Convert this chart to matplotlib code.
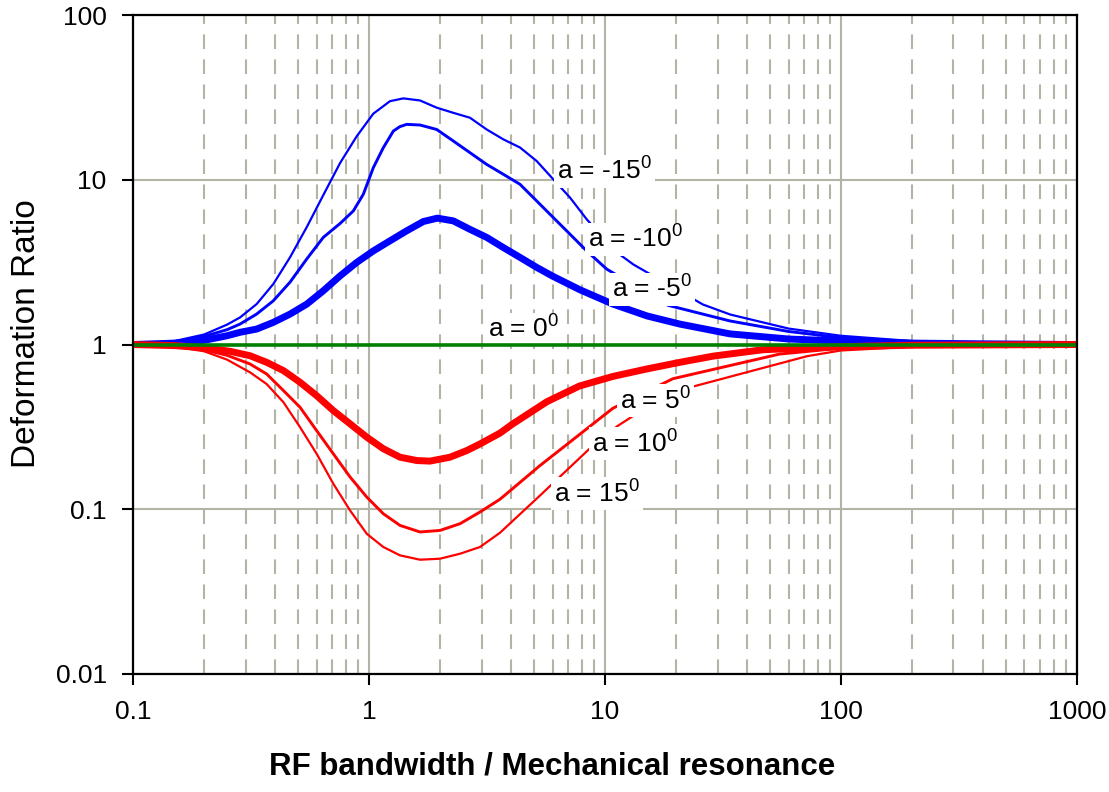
import matplotlib
matplotlib.use("Agg")
import matplotlib.pyplot as plt
from matplotlib.ticker import FixedLocator, FixedFormatter, NullLocator, LogLocator

plt.rcParams['font.family'] = ['Liberation Sans', 'DejaVu Sans']
plt.rcParams['mathtext.fontset'] = 'custom'
plt.rcParams['mathtext.rm'] = 'Liberation Sans'
plt.rcParams['mathtext.default'] = 'regular'

# ---- data ----
x_m15 = [0.1, 0.15, 0.2, 0.25, 0.284, 0.334, 0.393, 0.463, 0.545, 0.640, 0.754, 0.887, 1.043, 1.227, 1.398,
         1.645, 1.936, 2.276, 2.679, 3.153, 3.708, 4.364, 5.135, 6.038, 7.108, 8.366, 11.1, 13.2, 26, 34, 60,
         100, 200, 400, 1000]
y_m15 = [1.0, 1.05, 1.15, 1.32, 1.46, 1.76, 2.33, 3.39, 5.17, 8.07, 12.64, 18.38, 25.2, 30.0, 31.2,
         30.3, 27.4, 25.5, 23.8, 20.2, 17.6, 15.7, 13.0, 10.07, 7.80, 5.76, 3.67, 3.06, 1.75, 1.52, 1.25,
         1.13, 1.05, 1.02, 1.0]

x_m10 = [0.1, 0.15, 0.2, 0.25, 0.284, 0.334, 0.393, 0.463, 0.545, 0.640, 0.754, 0.858, 0.946, 1.043, 1.150,
         1.268, 1.35, 1.444, 1.645, 1.936, 2.276, 2.679, 3.153, 3.708, 4.364, 5.135, 6.038, 7.108, 8.366, 10.17,
         18.5, 33.9, 60, 100, 200, 400, 1000]
y_m10 = [1.0, 1.04, 1.12, 1.23, 1.331, 1.531, 1.843, 2.395, 3.31, 4.47, 5.43, 6.47, 8.17, 11.85, 15.67,
         19.76, 21.0, 21.7, 21.5, 20.2, 17.2, 14.6, 12.4, 10.8, 9.39, 7.44, 5.90, 4.675, 3.70, 2.87,
         1.73, 1.39, 1.2, 1.1, 1.04, 1.01, 1.0]

x_m5 = [0.1, 0.15, 0.2, 0.25, 0.284, 0.334, 0.393, 0.463, 0.545, 0.640, 0.754, 0.887, 1.043, 1.227, 1.444,
        1.699, 1.95, 2.276, 2.679, 3.153, 3.708, 4.364, 5.135, 6.0, 7.83, 10.8, 15.1, 20.8, 33.9, 60, 100,
        200, 400, 1000]
y_m5 = [1.0, 1.02, 1.06, 1.13, 1.186, 1.241, 1.363, 1.531, 1.76, 2.119, 2.61, 3.15, 3.70, 4.26, 4.90,
        5.58, 5.85, 5.63, 5.0, 4.47, 3.88, 3.38, 2.94, 2.6, 2.15, 1.76, 1.49, 1.33, 1.16, 1.08, 1.05,
        1.02, 1.01, 1.0]

x_0 = [0.1, 1000]
y_0 = [1.0, 1.0]

x_p5 = [0.1, 0.15, 0.2, 0.257, 0.313, 0.368, 0.434, 0.510, 0.600, 0.706, 0.831, 0.978, 1.150, 1.353, 1.593,
        1.813, 2.204, 2.594, 2.953, 3.59, 4.07, 5.68, 7.8, 10.8, 15, 20.8, 28.7, 46.8, 100, 200, 1000]
y_p5 = [1.0, 0.985, 0.955, 0.91, 0.855, 0.780, 0.694, 0.590, 0.489, 0.397, 0.330, 0.274, 0.233, 0.207, 0.1976,
        0.196, 0.207, 0.227, 0.249, 0.29, 0.33, 0.45, 0.56, 0.64, 0.71, 0.78, 0.85, 0.93, 0.97, 0.99, 1.0]

x_p10 = [0.1, 0.15, 0.2, 0.25, 0.313, 0.368, 0.434, 0.510, 0.600, 0.706, 0.831, 0.978, 1.150, 1.353, 1.645,
         2.0, 2.43, 2.953, 3.59, 5.3, 10.8, 19.4, 55, 100, 200, 400, 1000]
y_p10 = [1.0, 0.975, 0.93, 0.86, 0.762, 0.663, 0.525, 0.416, 0.300, 0.217, 0.157, 0.1186, 0.0939, 0.0798, 0.0728,
         0.0744, 0.0817, 0.0962, 0.115, 0.184, 0.41, 0.62, 0.875, 0.95, 0.98, 0.995, 1.0]

x_p15 = [0.1, 0.15, 0.2, 0.25, 0.313, 0.368, 0.434, 0.510, 0.600, 0.706, 0.831, 0.978, 1.150, 1.353, 1.645,
         2.0, 2.43, 2.953, 3.59, 5.3, 8.6, 11.3, 14, 23, 72, 100, 200, 400, 1000]
y_p15 = [1.0, 0.97, 0.91, 0.81, 0.678, 0.576, 0.446, 0.315, 0.217, 0.1427, 0.0984, 0.0710, 0.0590, 0.0525, 0.0494,
         0.0501, 0.0537, 0.0590, 0.072, 0.121, 0.233, 0.32, 0.39, 0.55, 0.85, 0.92, 0.97, 0.99, 1.0]

x_ticks = [0.1, 1, 10, 100, 1000]
x_tick_labels = ['0.1', '1', '10', '100', '1000']
y_ticks = [0.01, 0.1, 1, 10, 100]
y_tick_labels = ['0.01', '0.1', '1', '10', '100']

labels = ['a = -15$^0$', 'a = -10$^0$', 'a = -5$^0$', 'a = 0$^0$', 'a = 5$^0$', 'a = 10$^0$', 'a = 15$^0$']
label_x = [6.26, 8.47, 10.7, 3.19, 11.6, 8.81, 6.08]
label_y = [11.3, 4.36, 2.17, 1.24, 0.455, 0.249, 0.124]

# ---- figure ----
fig = plt.figure(figsize=(11.09, 7.92), dpi=100)
ax = fig.add_axes([0.12, 0.149, 0.851, 0.832])
ax.set_xscale('log')
ax.set_yscale('log')
ax.set_xlim(0.1, 1000)
ax.set_ylim(0.01, 100)

gcol = '#b3b3a6'
ax.xaxis.set_minor_locator(LogLocator(base=10, subs=range(2, 10)))
ax.yaxis.set_minor_locator(NullLocator())
ax.grid(True, which='major', axis='both', color=gcol, lw=1.5, ls='-', zorder=0)
ax.grid(True, which='minor', axis='x', color=gcol, lw=1.5, ls=(0, (7, 5)), zorder=0)
ax.set_axisbelow(True)

blue = '#0000ff'
red = '#ff0000'
kw = dict(solid_capstyle='round', solid_joinstyle='round')
ax.plot(x_p15, y_p15, color=red, lw=1.6, zorder=3, **kw)
ax.plot(x_p10, y_p10, color=red, lw=2.1, zorder=3, **kw)
ax.plot(x_m15, y_m15, color=blue, lw=1.6, zorder=3, **kw)
ax.plot(x_m10, y_m10, color=blue, lw=2.1, zorder=3, **kw)
ax.plot(x_m5, y_m5, color=blue, lw=5.0, zorder=3, **kw)
ax.plot(x_p5, y_p5, color=red, lw=5.0, zorder=3, **kw)
ax.plot(x_0, y_0, color='#008000', lw=2.6, zorder=6.5, **kw)

for t, lx, ly in zip(labels, label_x, label_y):
    ax.text(lx, ly, t, fontsize=19, ha='left', va='center', zorder=6,
            bbox=dict(facecolor='white', edgecolor='none', pad=2))

ax.xaxis.set_major_locator(FixedLocator(x_ticks))
ax.xaxis.set_major_formatter(FixedFormatter(x_tick_labels))
ax.yaxis.set_major_locator(FixedLocator(y_ticks))
ax.yaxis.set_major_formatter(FixedFormatter(y_tick_labels))
ax.tick_params(which='major', direction='out', length=8, width=1.5, labelsize=19, pad=11)
ax.tick_params(which='minor', length=0)
for s in ax.spines.values():
    s.set_linewidth(1.6)
    s.set_zorder(7)

ax.set_ylabel('Deformation Ratio', fontsize=24)
ax.yaxis.set_label_coords(-0.097, 0.517)
ax.set_xlabel('RF bandwidth / Mechanical resonance', fontsize=22.5, fontweight='bold')
ax.xaxis.set_label_coords(0.444, -0.118)

fig.savefig('out.png', dpi=100)
